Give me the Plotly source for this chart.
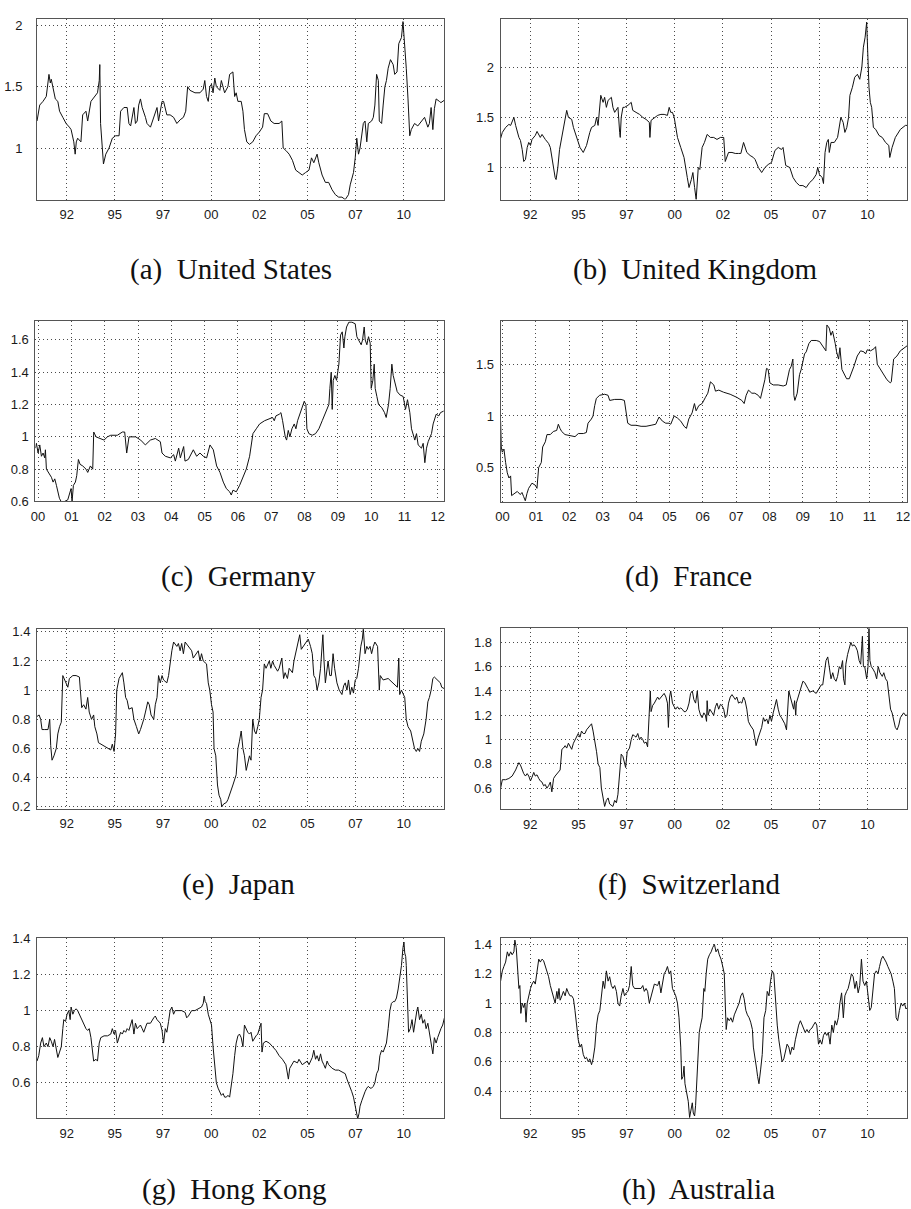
import plotly.graph_objects as go

# ---------------- data (decimal years, values) ----------------
US_YEAR = [1990.96,1991.10,1991.27,1991.44,1991.58,1991.65,1991.70,1991.79,1991.91,1992.04,1992.13,1992.30,1992.47,1992.64,1992.73,1992.87,1992.94,1993.00,1993.07,1993.24,1993.33,1993.50,1993.59,1993.76,1993.93,1994.10,1994.19,1994.22,1994.26,1994.32,1994.41,1994.53,1994.70,1994.87,1995.04,1995.22,1995.30,1995.47,1995.64,1995.73,1995.82,1995.99,1996.07,1996.16,1996.24,1996.33,1996.42,1996.59,1996.67,1996.85,1997.02,1997.19,1997.27,1997.36,1997.45,1997.53,1997.70,1997.87,1998.05,1998.22,1998.39,1998.56,1998.68,1998.78,1998.90,1999.16,1999.42,1999.59,1999.67,1999.76,1999.85,1999.93,2000.02,2000.10,2000.19,2000.27,2000.45,2000.53,2000.70,2000.87,2000.96,2001.13,2001.22,2001.30,2001.39,2001.56,2001.65,2001.73,2001.85,2001.99,2002.16,2002.33,2002.50,2002.67,2002.76,2002.93,2003.10,2003.27,2003.53,2003.67,2003.74,2003.88,2004.05,2004.22,2004.39,2004.56,2004.73,2004.90,2005.08,2005.21,2005.33,2005.50,2005.59,2005.76,2005.93,2006.10,2006.28,2006.45,2006.62,2006.79,2006.96,2007.13,2007.22,2007.39,2007.48,2007.56,2007.65,2007.73,2007.82,2007.90,2007.99,2008.08,2008.16,2008.33,2008.42,2008.50,2008.59,2008.68,2008.73,2008.85,2008.93,2009.02,2009.10,2009.19,2009.31,2009.45,2009.53,2009.65,2009.74,2009.88,2009.96,2010.00,2010.05,2010.13,2010.22,2010.31,2010.39,2010.56,2010.73,2010.91,2011.08,2011.25,2011.33,2011.42,2011.51,2011.59,2011.68,2011.85,2011.93,2012.11]
US_VALUE = [1.22,1.35,1.38,1.42,1.60,1.53,1.56,1.48,1.40,1.38,1.30,1.25,1.20,1.17,1.15,1.05,0.95,1.05,1.08,1.05,1.27,1.30,1.22,1.38,1.42,1.45,1.55,1.68,1.20,1.05,0.87,0.95,1.00,1.08,1.10,1.10,1.30,1.33,1.33,1.20,1.18,1.33,1.20,1.22,1.35,1.40,1.33,1.25,1.20,1.17,1.25,1.33,1.22,1.30,1.38,1.38,1.27,1.27,1.25,1.20,1.23,1.25,1.30,1.50,1.47,1.45,1.45,1.48,1.55,1.42,1.38,1.50,1.52,1.45,1.57,1.50,1.47,1.55,1.45,1.50,1.60,1.62,1.42,1.45,1.38,1.38,1.30,1.15,1.05,1.03,1.05,1.10,1.13,1.17,1.28,1.28,1.22,1.20,1.20,1.22,1.00,0.98,0.95,0.90,0.82,0.80,0.78,0.80,0.82,0.92,0.88,0.95,0.88,0.78,0.72,0.72,0.66,0.62,0.60,0.60,0.58,0.62,0.70,0.80,0.92,1.08,0.95,1.00,1.10,1.20,1.22,1.05,1.20,1.22,1.25,1.35,1.60,1.55,1.22,1.20,1.35,1.50,1.55,1.65,1.72,1.68,1.60,1.62,1.85,1.90,2.03,1.95,1.80,1.65,1.40,1.10,1.15,1.20,1.18,1.22,1.25,1.17,1.20,1.33,1.15,1.32,1.40,1.38,1.37,1.39]

UK_YEAR = [1990.96,1991.05,1991.22,1991.39,1991.48,1991.56,1991.65,1991.74,1991.82,1991.91,1991.99,1992.08,1992.16,1992.25,1992.34,1992.42,1992.51,1992.59,1992.76,1992.85,1993.02,1993.11,1993.28,1993.45,1993.54,1993.62,1993.71,1993.79,1993.84,1993.93,1994.02,1994.14,1994.22,1994.31,1994.39,1994.48,1994.65,1994.74,1994.91,1995.08,1995.25,1995.42,1995.59,1995.68,1995.85,1995.94,1996.02,1996.16,1996.28,1996.36,1996.45,1996.54,1996.71,1996.79,1996.88,1996.97,1997.05,1997.14,1997.17,1997.22,1997.31,1997.39,1997.57,1997.74,1997.82,1997.99,1998.17,1998.34,1998.51,1998.68,1998.71,1998.77,1998.94,1999.11,1999.28,1999.45,1999.62,1999.71,1999.79,1999.88,1999.97,2000.05,2000.14,2000.31,2000.48,2000.65,2000.74,2000.86,2000.94,2001.03,2001.11,2001.22,2001.30,2001.42,2001.54,2001.68,2001.85,2002.02,2002.19,2002.37,2002.54,2002.62,2002.79,2002.97,2003.14,2003.31,2003.43,2003.57,2003.74,2003.91,2004.08,2004.17,2004.34,2004.51,2004.68,2004.85,2005.02,2005.20,2005.37,2005.54,2005.62,2005.76,2005.97,2006.14,2006.31,2006.48,2006.65,2006.82,2007.00,2007.17,2007.34,2007.42,2007.51,2007.65,2007.72,2007.80,2007.89,2007.97,2008.02,2008.11,2008.28,2008.45,2008.54,2008.62,2008.74,2008.83,2008.93,2009.02,2009.09,2009.22,2009.34,2009.48,2009.60,2009.71,2009.79,2009.88,2009.96,2010.00,2010.05,2010.08,2010.15,2010.22,2010.31,2010.43,2010.60,2010.77,2010.94,2011.11,2011.16,2011.28,2011.45,2011.71,2011.97,2012.07]
UK_VALUE = [1.29,1.35,1.40,1.43,1.42,1.45,1.50,1.42,1.35,1.30,1.27,1.18,1.06,1.08,1.20,1.25,1.22,1.28,1.32,1.36,1.30,1.33,1.28,1.24,1.20,1.10,1.00,0.90,0.88,1.00,1.18,1.30,1.40,1.50,1.57,1.50,1.48,1.40,1.30,1.20,1.15,1.22,1.35,1.40,1.42,1.50,1.42,1.72,1.65,1.70,1.60,1.67,1.70,1.60,1.55,1.58,1.60,1.35,1.30,1.50,1.60,1.60,1.62,1.65,1.57,1.55,1.53,1.50,1.48,1.45,1.30,1.47,1.50,1.52,1.53,1.53,1.52,1.60,1.55,1.55,1.50,1.40,1.30,1.20,1.10,0.90,0.80,0.88,0.95,0.80,0.68,1.00,0.98,1.20,1.25,1.33,1.30,1.30,1.28,1.30,1.30,1.06,1.15,1.15,1.14,1.14,1.14,1.25,1.15,1.12,1.10,1.08,1.00,0.95,1.00,1.03,1.05,1.17,1.20,1.18,1.20,1.02,1.00,0.90,0.85,0.82,0.82,0.80,0.85,0.88,0.93,1.00,0.93,0.90,0.84,1.15,1.25,1.28,1.15,1.25,1.25,1.30,1.40,1.50,1.45,1.35,1.40,1.50,1.72,1.80,1.90,1.93,1.88,2.00,2.20,2.30,2.45,2.20,2.03,1.80,1.65,1.60,1.40,1.38,1.32,1.30,1.25,1.22,1.10,1.20,1.30,1.38,1.42,1.42]

DE_YEAR = [1999.92,1999.95,2000.00,2000.05,2000.10,2000.15,2000.20,2000.22,2000.25,2000.30,2000.40,2000.45,2000.50,2000.55,2000.60,2000.64,2000.69,2000.79,2000.89,2000.94,2000.99,2001.02,2001.06,2001.12,2001.16,2001.21,2001.26,2001.34,2001.44,2001.49,2001.57,2001.64,2001.67,2001.74,2001.84,2001.98,2002.08,2002.18,2002.38,2002.53,2002.60,2002.66,2002.73,2002.83,2002.93,2003.08,2003.22,2003.37,2003.52,2003.67,2003.72,2003.82,2003.97,2004.07,2004.12,2004.22,2004.27,2004.37,2004.41,2004.51,2004.66,2004.76,2004.86,2004.96,2005.06,2005.16,2005.26,2005.36,2005.46,2005.56,2005.65,2005.75,2005.80,2005.85,2005.95,2006.05,2006.15,2006.25,2006.35,2006.40,2006.45,2006.55,2006.65,2006.80,2006.94,2007.04,2007.09,2007.14,2007.24,2007.29,2007.34,2007.42,2007.46,2007.51,2007.56,2007.62,2007.69,2007.74,2007.79,2007.87,2007.94,2007.99,2008.04,2008.07,2008.13,2008.23,2008.33,2008.43,2008.53,2008.63,2008.68,2008.73,2008.76,2008.80,2008.83,2008.86,2008.91,2008.96,2009.03,2009.08,2009.13,2009.18,2009.21,2009.26,2009.33,2009.42,2009.52,2009.57,2009.62,2009.70,2009.74,2009.79,2009.82,2009.87,2009.92,2009.97,2010.00,2010.05,2010.09,2010.12,2010.17,2010.22,2010.32,2010.40,2010.45,2010.52,2010.57,2010.62,2010.66,2010.73,2010.78,2010.86,2010.96,2011.03,2011.09,2011.16,2011.21,2011.31,2011.36,2011.41,2011.51,2011.56,2011.61,2011.66,2011.71,2011.81,2011.86,2011.95,2012.03,2012.08,2012.18]
DE_VALUE = [0.93,0.96,0.90,0.95,0.88,0.90,0.87,0.92,0.80,0.78,0.75,0.72,0.74,0.70,0.66,0.62,0.60,0.60,0.61,0.65,0.68,0.60,0.70,0.72,0.76,0.86,0.83,0.82,0.80,0.78,0.82,0.80,1.03,1.00,0.99,0.98,1.00,1.01,1.01,1.03,1.03,0.90,1.00,1.00,1.00,0.98,0.95,0.98,0.99,0.97,0.90,0.88,0.87,0.89,0.85,0.93,0.87,0.94,0.85,0.86,0.92,0.88,0.90,0.88,0.87,0.95,0.92,0.82,0.78,0.72,0.68,0.66,0.64,0.67,0.66,0.70,0.75,0.80,0.88,0.95,1.02,1.05,1.08,1.10,1.11,1.12,1.10,1.13,1.14,1.15,1.10,1.00,0.98,1.04,1.00,1.05,1.08,1.05,1.10,1.15,1.20,1.22,1.20,1.05,1.02,1.01,1.02,1.05,1.10,1.15,1.18,1.20,1.30,1.40,1.17,1.35,1.38,1.35,1.45,1.63,1.65,1.55,1.62,1.68,1.71,1.71,1.70,1.62,1.60,1.57,1.60,1.68,1.60,1.57,1.62,1.58,1.30,1.35,1.45,1.30,1.25,1.20,1.18,1.15,1.12,1.20,1.30,1.45,1.38,1.33,1.28,1.26,1.25,1.17,1.23,1.15,1.05,0.98,1.02,0.95,0.93,0.96,0.84,0.93,0.97,1.02,1.08,1.14,1.13,1.15,1.16]

FR_YEAR = [1999.94,1999.96,1999.99,2000.04,2000.09,2000.14,2000.19,2000.24,2000.27,2000.34,2000.44,2000.53,2000.58,2000.63,2000.68,2000.73,2000.78,2000.88,2000.98,2001.03,2001.08,2001.16,2001.20,2001.28,2001.33,2001.43,2001.52,2001.62,2001.67,2001.72,2001.77,2001.87,2002.02,2002.17,2002.27,2002.42,2002.51,2002.56,2002.66,2002.71,2002.76,2002.81,2002.91,2003.06,2003.16,2003.21,2003.36,2003.55,2003.65,2003.70,2003.75,2003.85,2004.00,2004.15,2004.30,2004.45,2004.59,2004.69,2004.79,2004.89,2004.99,2005.04,2005.14,2005.24,2005.34,2005.44,2005.51,2005.58,2005.68,2005.75,2005.80,2005.88,2005.98,2006.08,2006.15,2006.23,2006.33,2006.38,2006.48,2006.62,2006.82,2007.02,2007.17,2007.24,2007.30,2007.37,2007.47,2007.56,2007.66,2007.73,2007.81,2007.86,2007.91,2007.96,2008.01,2008.11,2008.26,2008.41,2008.50,2008.53,2008.60,2008.65,2008.70,2008.73,2008.76,2008.83,2008.90,2008.95,2009.00,2009.05,2009.10,2009.18,2009.25,2009.40,2009.50,2009.59,2009.69,2009.72,2009.79,2009.84,2009.89,2009.97,2010.01,2010.07,2010.11,2010.17,2010.24,2010.31,2010.39,2010.44,2010.53,2010.63,2010.73,2010.83,2010.88,2010.93,2011.03,2011.13,2011.18,2011.23,2011.33,2011.43,2011.52,2011.62,2011.65,2011.72,2011.82,2011.92,2012.02,2012.13]
FR_VALUE = [0.95,0.70,0.65,0.68,0.55,0.45,0.40,0.42,0.23,0.25,0.27,0.24,0.26,0.22,0.18,0.25,0.30,0.35,0.33,0.30,0.50,0.55,0.70,0.75,0.82,0.82,0.85,0.86,0.92,0.88,0.85,0.82,0.81,0.80,0.83,0.83,0.84,0.93,0.97,1.00,1.10,1.17,1.20,1.21,1.20,1.15,1.16,1.16,1.15,1.05,0.93,0.91,0.91,0.90,0.90,0.91,0.92,0.99,0.95,0.93,0.93,0.92,1.00,0.98,0.95,0.90,0.88,0.97,1.03,1.12,1.05,1.10,1.12,1.18,1.22,1.33,1.30,1.24,1.25,1.23,1.21,1.18,1.15,1.12,1.20,1.25,1.22,1.22,1.20,1.17,1.28,1.35,1.46,1.45,1.32,1.30,1.30,1.29,1.30,1.35,1.45,1.48,1.55,1.20,1.15,1.22,1.40,1.45,1.52,1.60,1.62,1.70,1.73,1.73,1.72,1.68,1.63,1.88,1.85,1.78,1.82,1.70,1.62,1.55,1.66,1.45,1.40,1.36,1.36,1.40,1.48,1.58,1.63,1.62,1.60,1.64,1.63,1.65,1.67,1.50,1.45,1.40,1.35,1.32,1.33,1.55,1.58,1.63,1.65,1.68]

JP_YEAR = [1990.96,1991.07,1991.15,1991.22,1991.36,1991.53,1991.62,1991.67,1991.74,1991.84,1991.96,1992.04,1992.13,1992.22,1992.30,1992.39,1992.47,1992.56,1992.64,1992.82,1992.99,1993.16,1993.21,1993.28,1993.38,1993.50,1993.59,1993.67,1993.79,1993.90,1993.96,1994.07,1994.15,1994.27,1994.44,1994.62,1994.79,1994.87,1994.96,1995.04,1995.10,1995.22,1995.30,1995.39,1995.47,1995.56,1995.64,1995.73,1995.90,1995.99,1996.12,1996.24,1996.33,1996.42,1996.50,1996.59,1996.71,1996.79,1996.88,1997.02,1997.10,1997.19,1997.27,1997.36,1997.45,1997.53,1997.70,1997.79,1997.87,1997.96,1998.05,1998.22,1998.30,1998.39,1998.47,1998.56,1998.65,1998.82,1998.99,1999.07,1999.25,1999.33,1999.42,1999.50,1999.59,1999.76,1999.85,1999.93,2000.02,2000.10,2000.15,2000.24,2000.33,2000.41,2000.50,2000.55,2000.65,2000.79,2000.87,2000.96,2001.13,2001.30,2001.39,2001.47,2001.56,2001.65,2001.73,2001.82,2001.90,2001.99,2002.07,2002.16,2002.25,2002.33,2002.42,2002.50,2002.59,2002.67,2002.76,2002.85,2003.02,2003.10,2003.19,2003.27,2003.45,2003.53,2003.67,2003.76,2003.84,2003.96,2004.05,2004.22,2004.30,2004.39,2004.48,2004.60,2004.68,2004.78,2004.90,2005.04,2005.16,2005.25,2005.33,2005.42,2005.50,2005.59,2005.68,2005.80,2005.86,2005.93,2006.07,2006.16,2006.24,2006.33,2006.41,2006.53,2006.65,2006.79,2006.88,2006.96,2007.05,2007.13,2007.22,2007.30,2007.39,2007.48,2007.56,2007.65,2007.77,2007.85,2007.90,2007.99,2008.08,2008.16,2008.25,2008.33,2008.42,2008.50,2008.64,2008.73,2008.78,2008.93,2009.19,2009.36,2009.53,2009.67,2009.74,2009.79,2009.88,2010.05,2010.13,2010.22,2010.36,2010.48,2010.56,2010.65,2010.73,2010.82,2010.91,2011.04,2011.16,2011.25,2011.33,2011.42,2011.51,2011.59,2011.76,2011.90,2011.97,2012.11]
JP_VALUE = [0.82,0.83,0.80,0.73,0.73,0.73,0.80,0.62,0.52,0.55,0.60,0.70,0.75,0.78,1.10,1.07,1.05,1.02,1.08,1.10,1.10,1.09,1.00,0.88,0.90,0.87,0.95,0.85,0.80,0.83,0.75,0.70,0.64,0.63,0.62,0.60,0.59,0.63,0.58,0.70,1.00,1.08,1.10,1.12,1.05,0.95,0.93,0.87,0.88,0.80,0.75,0.70,0.73,0.76,0.80,0.85,0.92,0.90,0.83,0.80,0.90,0.95,1.10,1.05,1.10,1.07,1.05,1.10,1.20,1.27,1.33,1.30,1.32,1.27,1.32,1.25,1.33,1.30,1.27,1.22,1.25,1.27,1.20,1.25,1.20,1.18,1.05,1.00,0.90,0.85,0.60,0.55,0.35,0.28,0.25,0.20,0.22,0.23,0.25,0.28,0.35,0.42,0.60,0.65,0.72,0.60,0.55,0.45,0.50,0.55,0.52,0.80,0.72,0.70,0.75,0.80,0.95,1.00,1.18,1.15,1.20,1.15,1.20,1.17,1.13,1.15,1.22,1.08,1.12,1.08,1.15,1.12,1.20,1.25,1.30,1.38,1.28,1.30,1.32,1.35,1.30,1.25,1.10,1.08,1.00,1.05,1.15,1.38,1.20,1.05,1.20,1.10,1.10,1.25,1.15,1.05,1.00,0.97,1.03,1.05,1.00,1.07,0.97,1.02,0.98,1.07,1.08,1.15,1.30,1.35,1.42,1.25,1.30,1.28,1.30,1.25,1.30,1.33,1.30,1.00,1.10,1.07,1.08,1.06,1.04,1.02,1.22,0.97,1.00,0.95,0.80,0.75,0.72,0.65,0.60,0.58,0.60,0.58,0.65,0.70,0.80,0.92,0.95,1.00,1.08,1.09,1.07,1.05,1.02,1.01]

CH_YEAR = [1990.96,1991.05,1991.22,1991.39,1991.56,1991.65,1991.74,1991.82,1991.91,1991.99,1992.08,1992.16,1992.25,1992.34,1992.42,1992.51,1992.59,1992.68,1992.76,1992.85,1992.94,1993.02,1993.11,1993.19,1993.28,1993.36,1993.45,1993.54,1993.62,1993.71,1993.79,1993.88,1993.96,1994.05,1994.14,1994.22,1994.31,1994.39,1994.48,1994.56,1994.65,1994.74,1994.82,1994.91,1994.99,1995.08,1995.16,1995.25,1995.34,1995.42,1995.51,1995.59,1995.68,1995.76,1995.85,1995.94,1996.02,1996.11,1996.19,1996.28,1996.36,1996.45,1996.54,1996.62,1996.71,1996.79,1996.88,1996.97,1997.05,1997.14,1997.22,1997.31,1997.39,1997.45,1997.53,1997.65,1997.74,1997.82,1997.91,1997.99,1998.08,1998.17,1998.25,1998.34,1998.42,1998.51,1998.59,1998.65,1998.73,1998.77,1998.85,1998.94,1999.02,1999.11,1999.19,1999.28,1999.37,1999.45,1999.54,1999.62,1999.67,1999.73,1999.79,1999.88,1999.97,2000.05,2000.14,2000.22,2000.31,2000.39,2000.48,2000.57,2000.65,2000.74,2000.82,2000.91,2000.99,2001.08,2001.17,2001.25,2001.34,2001.42,2001.51,2001.59,2001.65,2001.68,2001.73,2001.82,2001.94,2002.02,2002.11,2002.19,2002.28,2002.37,2002.45,2002.54,2002.62,2002.71,2002.79,2002.88,2002.97,2003.05,2003.14,2003.22,2003.31,2003.40,2003.48,2003.57,2003.65,2003.74,2003.82,2003.91,2004.08,2004.17,2004.22,2004.34,2004.51,2004.60,2004.68,2004.77,2004.85,2004.94,2005.02,2005.11,2005.20,2005.28,2005.37,2005.45,2005.54,2005.62,2005.71,2005.80,2005.85,2005.92,2006.00,2006.09,2006.17,2006.22,2006.28,2006.31,2006.40,2006.48,2006.57,2006.65,2006.74,2006.82,2006.91,2007.00,2007.17,2007.34,2007.42,2007.51,2007.60,2007.68,2007.77,2007.85,2007.94,2008.02,2008.11,2008.20,2008.28,2008.37,2008.45,2008.54,2008.62,2008.71,2008.76,2008.83,2008.88,2008.97,2009.05,2009.14,2009.22,2009.31,2009.40,2009.48,2009.57,2009.65,2009.74,2009.79,2009.86,2009.91,2009.96,2010.03,2010.08,2010.13,2010.20,2010.29,2010.39,2010.48,2010.56,2010.65,2010.77,2010.85,2010.94,2011.03,2011.11,2011.20,2011.28,2011.37,2011.45,2011.54,2011.63,2011.71,2011.80,2011.88,2011.97,2012.07]
CH_VALUE = [0.60,0.67,0.67,0.68,0.70,0.72,0.75,0.78,0.81,0.79,0.75,0.72,0.70,0.72,0.70,0.66,0.69,0.73,0.70,0.71,0.68,0.66,0.65,0.62,0.63,0.60,0.62,0.65,0.57,0.68,0.70,0.72,0.73,0.75,0.92,0.93,0.95,0.93,0.97,0.94,0.92,0.97,1.00,1.03,1.05,1.02,1.07,1.05,1.05,1.08,1.10,1.12,1.13,1.07,1.00,0.90,0.80,0.77,0.60,0.52,0.45,0.50,0.52,0.47,0.46,0.45,0.50,0.48,0.55,0.70,0.88,0.86,0.82,0.77,0.90,0.93,1.00,1.04,1.03,1.02,1.05,1.00,1.02,1.00,0.97,0.98,0.94,1.20,1.40,1.23,1.28,1.30,1.32,1.35,1.33,1.35,1.37,1.38,1.35,1.30,1.10,1.35,1.40,1.30,1.27,1.25,1.27,1.25,1.26,1.25,1.23,1.23,1.25,1.30,1.38,1.40,1.33,1.30,1.40,1.25,1.20,1.18,1.22,1.20,1.15,1.32,1.20,1.25,1.22,1.20,1.27,1.30,1.25,1.29,1.28,1.25,1.18,1.20,1.30,1.35,1.37,1.35,1.33,1.35,1.30,1.31,1.30,1.35,1.32,1.25,1.15,1.12,1.08,1.00,0.95,1.02,1.10,1.18,1.15,1.17,1.13,1.20,1.15,1.22,1.28,1.33,1.25,1.20,1.18,1.15,1.13,1.08,1.20,1.40,1.35,1.30,1.25,1.32,1.20,1.30,1.35,1.40,1.45,1.48,1.47,1.45,1.42,1.39,1.40,1.38,1.40,1.42,1.45,1.45,1.55,1.65,1.68,1.60,1.50,1.55,1.50,1.48,1.52,1.60,1.58,1.65,1.50,1.45,1.62,1.70,1.75,1.80,1.77,1.78,1.76,1.73,1.65,1.62,1.85,1.60,1.60,1.55,1.50,1.60,1.92,1.65,1.60,1.58,1.55,1.50,1.60,1.55,1.52,1.55,1.50,1.48,1.38,1.25,1.22,1.15,1.10,1.08,1.12,1.18,1.20,1.22,1.20,1.20]

HK_YEAR = [1990.96,1991.05,1991.15,1991.24,1991.32,1991.44,1991.53,1991.62,1991.70,1991.79,1991.87,1991.96,1992.04,1992.13,1992.22,1992.30,1992.35,1992.44,1992.52,1992.61,1992.68,1992.73,1992.82,1992.90,1992.99,1993.07,1993.16,1993.24,1993.33,1993.42,1993.50,1993.59,1993.67,1993.76,1993.84,1993.90,1994.02,1994.10,1994.19,1994.27,1994.44,1994.62,1994.79,1994.87,1994.96,1995.04,1995.13,1995.22,1995.30,1995.39,1995.47,1995.56,1995.64,1995.73,1995.90,1995.99,1996.07,1996.16,1996.33,1996.42,1996.50,1996.67,1996.85,1997.02,1997.10,1997.19,1997.27,1997.36,1997.45,1997.53,1997.62,1997.70,1997.79,1997.87,1997.96,1998.05,1998.13,1998.30,1998.47,1998.65,1998.73,1998.82,1998.99,1999.16,1999.33,1999.50,1999.59,1999.64,1999.69,1999.76,1999.85,1999.93,2000.02,2000.10,2000.19,2000.27,2000.36,2000.45,2000.53,2000.62,2000.70,2000.79,2000.87,2000.96,2001.05,2001.13,2001.22,2001.30,2001.39,2001.47,2001.56,2001.65,2001.73,2001.82,2001.90,2001.99,2002.07,2002.16,2002.25,2002.33,2002.42,2002.50,2002.59,2002.64,2002.71,2002.85,2003.02,2003.19,2003.36,2003.53,2003.70,2003.88,2003.96,2004.01,2004.08,2004.18,2004.30,2004.48,2004.56,2004.73,2004.90,2004.99,2005.08,2005.25,2005.33,2005.42,2005.50,2005.59,2005.68,2005.76,2005.85,2005.93,2006.02,2006.10,2006.28,2006.45,2006.62,2006.79,2006.96,2007.05,2007.13,2007.22,2007.30,2007.39,2007.48,2007.56,2007.61,2007.68,2007.73,2007.82,2007.90,2007.99,2008.08,2008.16,2008.25,2008.33,2008.42,2008.50,2008.59,2008.68,2008.76,2008.85,2008.93,2009.02,2009.10,2009.19,2009.28,2009.36,2009.45,2009.53,2009.62,2009.71,2009.79,2009.88,2009.96,2010.01,2010.05,2010.10,2010.13,2010.19,2010.25,2010.34,2010.43,2010.51,2010.60,2010.68,2010.73,2010.82,2010.91,2010.99,2011.08,2011.16,2011.25,2011.33,2011.42,2011.51,2011.59,2011.68,2011.76,2011.85,2011.93,2012.02,2012.11]
HK_VALUE = [0.72,0.75,0.82,0.85,0.80,0.82,0.80,0.85,0.83,0.80,0.84,0.78,0.74,0.77,0.80,0.90,0.95,0.94,0.98,1.00,0.95,1.02,0.98,1.00,1.01,1.00,0.98,0.96,0.94,0.92,0.90,0.89,0.90,0.85,0.75,0.72,0.73,0.72,0.82,0.85,0.86,0.86,0.87,0.90,0.87,0.89,0.82,0.86,0.88,0.87,0.89,0.88,0.90,0.89,0.95,0.87,0.93,0.90,0.92,0.90,0.88,0.93,0.93,0.96,0.97,0.95,0.94,0.93,0.89,0.82,0.90,0.88,0.94,1.00,1.02,0.98,1.00,1.00,1.00,0.99,0.96,0.97,1.00,1.00,1.01,1.02,1.04,1.08,1.05,1.04,0.98,0.95,0.92,0.80,0.67,0.60,0.57,0.55,0.53,0.54,0.52,0.52,0.53,0.52,0.58,0.65,0.75,0.82,0.86,0.87,0.85,0.80,0.92,0.90,0.88,0.87,0.88,0.83,0.85,0.86,0.87,0.90,0.93,0.77,0.82,0.83,0.82,0.80,0.78,0.75,0.73,0.70,0.66,0.62,0.68,0.70,0.72,0.71,0.73,0.70,0.71,0.72,0.70,0.74,0.78,0.73,0.75,0.72,0.76,0.72,0.70,0.68,0.72,0.70,0.68,0.67,0.67,0.66,0.65,0.62,0.60,0.57,0.55,0.52,0.47,0.43,0.40,0.43,0.47,0.50,0.53,0.55,0.57,0.58,0.57,0.57,0.58,0.60,0.65,0.67,0.75,0.78,0.77,0.80,0.82,0.90,1.00,1.04,1.05,1.05,1.07,1.12,1.18,1.25,1.35,1.38,1.32,1.30,1.25,1.10,0.88,0.90,0.95,0.88,0.95,1.00,1.02,0.95,0.98,0.93,0.95,0.90,0.93,0.88,0.83,0.76,0.85,0.82,0.85,0.88,0.90,0.92,0.96]

AU_YEAR = [1990.96,1991.05,1991.13,1991.22,1991.31,1991.39,1991.48,1991.56,1991.65,1991.70,1991.77,1991.82,1991.91,1991.96,1992.01,1992.08,1992.16,1992.22,1992.28,1992.34,1992.42,1992.51,1992.59,1992.68,1992.76,1992.85,1992.94,1993.02,1993.11,1993.19,1993.28,1993.36,1993.45,1993.54,1993.62,1993.71,1993.79,1993.88,1993.93,1993.99,1994.05,1994.14,1994.22,1994.31,1994.39,1994.48,1994.56,1994.65,1994.74,1994.82,1994.91,1994.99,1995.08,1995.16,1995.25,1995.34,1995.42,1995.51,1995.59,1995.68,1995.76,1995.85,1995.94,1996.02,1996.11,1996.19,1996.28,1996.36,1996.45,1996.54,1996.62,1996.71,1996.79,1996.88,1996.97,1997.05,1997.14,1997.22,1997.31,1997.39,1997.48,1997.57,1997.65,1997.74,1997.82,1997.91,1998.08,1998.25,1998.34,1998.42,1998.51,1998.59,1998.68,1998.77,1998.85,1998.94,1999.11,1999.19,1999.28,1999.37,1999.45,1999.54,1999.62,1999.71,1999.79,1999.88,1999.97,2000.05,2000.14,2000.22,2000.31,2000.36,2000.43,2000.48,2000.53,2000.60,2000.65,2000.70,2000.77,2000.86,2000.91,2000.96,2001.03,2001.08,2001.13,2001.20,2001.27,2001.34,2001.42,2001.51,2001.56,2001.63,2001.71,2001.80,2001.89,2001.97,2002.06,2002.14,2002.23,2002.31,2002.40,2002.49,2002.57,2002.62,2002.67,2002.74,2002.83,2002.91,2003.00,2003.09,2003.17,2003.26,2003.34,2003.43,2003.52,2003.60,2003.69,2003.77,2003.86,2003.94,2004.03,2004.08,2004.17,2004.25,2004.30,2004.37,2004.46,2004.54,2004.63,2004.72,2004.80,2004.89,2004.97,2005.06,2005.14,2005.23,2005.32,2005.40,2005.49,2005.57,2005.66,2005.74,2005.83,2005.92,2006.00,2006.09,2006.17,2006.26,2006.34,2006.43,2006.52,2006.60,2006.69,2006.77,2006.86,2006.94,2007.03,2007.12,2007.20,2007.29,2007.37,2007.46,2007.54,2007.63,2007.72,2007.80,2007.89,2007.97,2008.06,2008.15,2008.23,2008.32,2008.40,2008.49,2008.57,2008.66,2008.75,2008.83,2008.92,2009.00,2009.09,2009.17,2009.26,2009.35,2009.43,2009.52,2009.60,2009.69,2009.77,2009.86,2009.95,2010.03,2010.12,2010.20,2010.29,2010.37,2010.46,2010.55,2010.63,2010.72,2010.80,2010.89,2010.97,2011.06,2011.15,2011.23,2011.32,2011.40,2011.49,2011.57,2011.66,2011.75,2011.83,2011.92,2012.00,2012.07]
AU_VALUE = [1.15,1.22,1.25,1.28,1.35,1.32,1.35,1.33,1.35,1.43,1.38,1.30,1.10,1.12,0.93,1.00,0.97,1.00,0.87,1.00,1.05,1.10,1.13,1.15,1.13,1.20,1.30,1.28,1.30,1.29,1.25,1.22,1.18,1.12,1.08,1.05,1.00,1.08,1.03,1.10,1.02,1.05,1.08,1.05,1.10,1.07,1.05,1.05,1.03,0.95,0.85,0.75,0.70,0.72,0.65,0.62,0.63,0.60,0.62,0.58,0.62,0.70,0.85,0.92,0.95,1.05,1.15,1.10,1.22,1.15,1.18,1.12,1.10,1.12,1.08,1.00,0.98,1.05,1.10,1.05,1.07,1.08,1.12,1.25,1.12,1.10,1.10,1.10,1.12,1.08,1.10,1.08,1.00,1.05,1.10,1.13,1.12,1.15,1.07,1.15,1.20,1.22,1.25,1.20,1.22,1.10,1.07,1.05,1.00,0.90,0.70,0.48,0.50,0.57,0.45,0.40,0.38,0.33,0.22,0.28,0.32,0.25,0.23,0.30,0.45,0.60,0.80,0.85,0.90,1.10,1.08,1.20,1.30,1.33,1.35,1.38,1.40,1.35,1.37,1.33,1.30,1.25,1.20,1.00,0.82,0.90,0.88,0.90,0.87,0.92,0.95,0.98,1.00,1.05,1.07,1.03,0.95,0.92,0.90,0.87,0.82,0.70,0.60,0.55,0.50,0.45,0.55,0.65,0.90,0.95,1.08,1.05,1.15,1.22,1.20,1.00,0.85,0.75,0.65,0.60,0.62,0.68,0.72,0.70,0.65,0.70,0.68,0.75,0.80,0.85,0.88,0.85,0.82,0.80,0.82,0.80,0.82,0.83,0.85,0.87,0.85,0.72,0.75,0.72,0.78,0.80,0.78,0.80,0.72,0.85,0.80,0.88,0.85,0.90,1.00,1.07,0.90,1.05,1.08,1.10,1.15,1.20,1.18,1.10,1.15,1.07,1.12,1.30,1.15,1.12,1.15,1.05,0.95,0.97,1.10,1.20,1.22,1.20,1.25,1.30,1.32,1.30,1.28,1.25,1.22,1.20,1.15,1.10,0.90,0.88,0.95,1.00,0.98,1.00,0.96,0.97]

LONG_TICKS = [1992.5, 1995.0, 1997.5, 2000.0, 2002.5, 2005.0, 2007.5, 2010.0]
LONG_LABELS = ["92", "95", "97", "00", "02", "05", "07", "10"]
SHORT_TICKS = [2000, 2001, 2002, 2003, 2004, 2005, 2006, 2007, 2008, 2009, 2010, 2011, 2012]
SHORT_LABELS = ["00", "01", "02", "03", "04", "05", "06", "07", "08", "09", "10", "11", "12"]

CAPTIONS = ["(a)  United States", "(b)  United Kingdom", "(c)  Germany", "(d)  France",
            "(e)  Japan", "(f)  Switzerland", "(g)  Hong Kong", "(h)  Australia"]

Y_TICKS = [
    [1.0, 1.5, 2.0],
    [1.0, 1.5, 2.0],
    [0.6, 0.8, 1.0, 1.2, 1.4, 1.6],
    [0.5, 1.0, 1.5],
    [0.2, 0.4, 0.6, 0.8, 1.0, 1.2, 1.4],
    [0.6, 0.8, 1.0, 1.2, 1.4, 1.6, 1.8],
    [0.6, 0.8, 1.0, 1.2, 1.4],
    [0.4, 0.6, 0.8, 1.0, 1.2, 1.4],
]
Y_RANGES = [[0.58, 2.05], [0.68, 2.48], [0.60, 1.715], [0.17, 1.915],
            [0.188, 1.418], [0.427, 1.914], [0.404, 1.405], [0.216, 1.447]]

SERIES = [(US_YEAR, US_VALUE), (UK_YEAR, UK_VALUE), (DE_YEAR, DE_VALUE), (FR_YEAR, FR_VALUE),
          (JP_YEAR, JP_VALUE), (CH_YEAR, CH_VALUE), (HK_YEAR, HK_VALUE), (AU_YEAR, AU_VALUE)]

# ---------------- layout (pixel geometry) ----------------
W, H = 911, 1209
BOXES = [
    (32.3, 443.3, 12.3, 195.0), (500.0, 910.3, 12.3, 195.0),
    (30.7, 442.7, 318.3, 500.7), (500.0, 910.3, 318.3, 501.0),
    (32.3, 443.3, 630.0, 811.7), (500.0, 910.3, 629.3, 812.3),
    (32.3, 443.3, 942.3, 1125.0), (500.0, 910.3, 942.3, 1125.0),
]
X_RANGES = [[1990.96, 2012.11], [1990.96, 2012.07], [1999.92, 2012.18], [1999.94, 2012.13],
            [1990.96, 2012.11], [1990.96, 2012.07], [1990.96, 2012.11], [1990.96, 2012.07]]
Y_STANDOFF = [11, 3, 3, 3, 3, 5, 3, 5]
CAPTION_X = [228, 696, 236, 690, 236, 690, 231, 700]
CAPTION_Y = [266, 266, 577, 577, 889, 889, 1197, 1197]

fig = go.Figure()

def fmt(v):
    s = ("%.1f" % v)
    if s.endswith(".0"):
        s = s[:-2]
    return s

GRID = dict(showgrid=True, gridcolor="#4a4a4a", griddash="1px,3px", gridwidth=1)
FRAME = dict(showline=True, mirror=True, linecolor="#555555", linewidth=1, zeroline=False, ticks="")
TICKFONT = dict(family="Liberation Sans, Arial, sans-serif", size=13, color="#1a1a1a")

for i, (xs, ys) in enumerate(SERIES):
    n = "" if i == 0 else str(i + 1)
    fig.add_trace(go.Scatter(x=xs, y=ys, mode="lines",
                             line=dict(color="#111111", width=1),
                             xaxis="x" + n, yaxis="y" + n, showlegend=False,
                             hoverinfo="skip"))
    l, r, t, b = BOXES[i]
    long_axis = i not in (2, 3)
    xa = dict(domain=[l / W, r / W], range=X_RANGES[i], anchor="y" + n,
              tickmode="array",
              tickvals=LONG_TICKS if long_axis else SHORT_TICKS,
              ticktext=LONG_LABELS if long_axis else SHORT_LABELS,
              ticklabelstandoff=3, ticklabeloverflow="allow",
              tickfont=TICKFONT, **GRID, **FRAME)
    ya = dict(domain=[1 - b / H, 1 - t / H], range=Y_RANGES[i], anchor="x" + n,
              tickmode="array", tickvals=Y_TICKS[i], ticktext=[fmt(v) for v in Y_TICKS[i]],
              ticklabelstandoff=Y_STANDOFF[i], ticklabeloverflow="allow",
              tickfont=TICKFONT, **GRID, **FRAME)
    fig.update_layout(**{"xaxis" + n: xa, "yaxis" + n: ya})
    fig.add_annotation(x=CAPTION_X[i] / W, y=1 - CAPTION_Y[i] / H, xref="paper", yref="paper",
                       text=CAPTIONS[i], showarrow=False, xanchor="center", yanchor="middle",
                       font=dict(family="Liberation Serif, Times New Roman, serif", size=29, color="#111111"))

fig.update_layout(width=W, height=H, margin=dict(l=0, r=0, t=0, b=0),
                  paper_bgcolor="white", plot_bgcolor="white", showlegend=False)

fig.write_html("out.html", config={"displayModeBar": False})
